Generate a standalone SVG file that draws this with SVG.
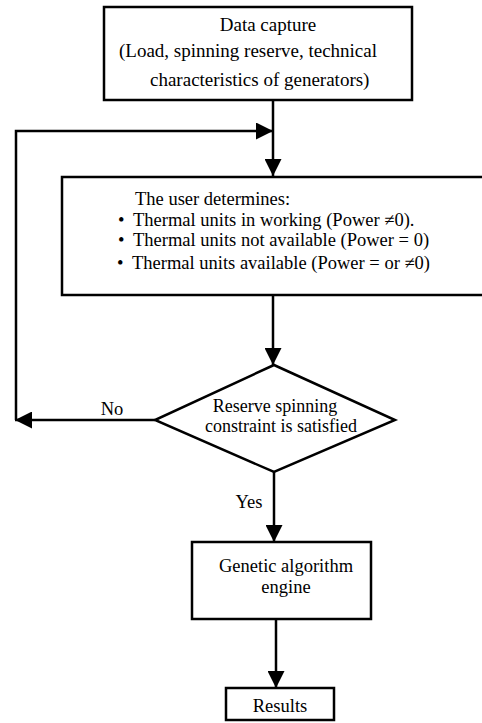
<svg xmlns="http://www.w3.org/2000/svg" width="482" height="723" viewBox="0 0 482 723">
<style>
.box{fill:#fff;stroke:#000;stroke-width:2.5}
.ln{fill:none;stroke:#000;stroke-width:2.5}
text{font-family:"Liberation Serif","DejaVu Serif",serif;font-size:18.5px;fill:#000}
.c{text-anchor:middle}
.s{font-size:18px}
.b{font-size:19px}
</style>
<defs>
<marker id="ah" markerUnits="userSpaceOnUse" markerWidth="17" markerHeight="17" refX="17" refY="8.5" orient="auto">
<path d="M0,0 L17,8.5 L0,17 z" fill="#000"/>
</marker>
</defs>
<g id="connectors">
<path class="ln" d="M273,100 V176" marker-end="url(#ah)"/>
<path class="ln" d="M273,295 V365" marker-end="url(#ah)"/>
<path class="ln" d="M155,420 H15" marker-end="url(#ah)"/>
<path class="ln" d="M16,420 V131 H273" marker-end="url(#ah)"/>
<path class="ln" d="M274,472 V542" marker-end="url(#ah)"/>
<path class="ln" d="M276,619 V688" marker-end="url(#ah)"/>
<text x="112" y="415" class="c">No</text>
<text x="249" y="508" class="c">Yes</text>
</g>
<g id="data-capture">
<rect class="box" x="104" y="7" width="308" height="93"/>
<text x="268" y="31" class="c b">Data capture</text>
<text x="119" y="57" class="b">(Load, spinning reserve, technical</text>
<text x="150" y="86" class="b">characteristics of generators)</text>
</g>
<g id="user-determines">
<rect class="box" x="62" y="177" width="430" height="118"/>
<text x="135" y="205">The user determines:</text>
<text x="118" y="226">•</text>
<text x="133" y="226">Thermal units in working (Power ≠0).</text>
<text x="118" y="246">•</text>
<text x="133" y="246">Thermal units not available (Power = 0)</text>
<text x="117" y="269">•</text>
<text x="132" y="269">Thermal units available (Power = or  ≠0)</text>
</g>
<g id="reserve-check">
<polygon class="box" points="274,365 395,420 274,472 155,420"/>
<text x="275" y="412" class="c s">Reserve spinning</text>
<text x="281" y="432" class="c s">constraint is satisfied</text>
</g>
<g id="genetic-engine">
<rect class="box" x="192" y="542" width="179" height="77"/>
<text x="286" y="572" class="c">Genetic algorithm</text>
<text x="286" y="593" class="c">engine</text>
</g>
<g id="results">
<rect class="box" x="226" y="688" width="108" height="32"/>
<text x="280" y="712" class="c">Results</text>
</g>
</svg>
